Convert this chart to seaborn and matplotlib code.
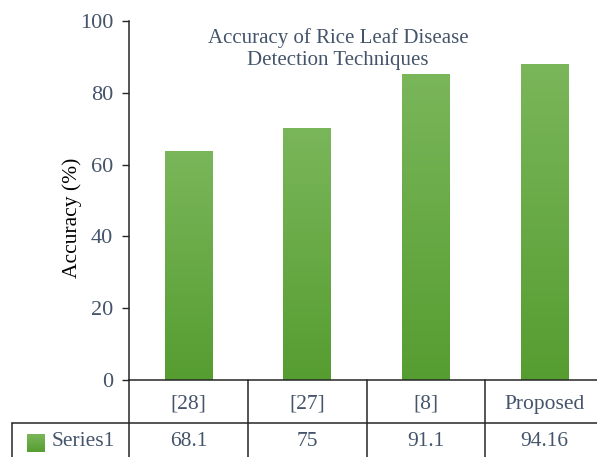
"""Bar chart of rice leaf disease detection accuracy with an Excel-style data table."""
import matplotlib
matplotlib.use("Agg")
import matplotlib.pyplot as plt
import matplotlib.patches as mpatches
import seaborn as sns
import pandas as pd
import numpy as np

# %%
# Data
methods = ['[28]', '[27]', '[8]', 'Proposed']
bar_heights = [63.7, 70.1, 85.2, 87.9]          # bar tops as drawn against the axis
table_values = ['68.1', '75', '91.1', '94.16']  # values printed in the data table
series_name = 'Series1'
y_ticks = [0, 20, 40, 60, 80, 100]

df = pd.DataFrame({'method': methods, 'accuracy': bar_heights})

# %%
sns.set_style('white')
plt.rcParams['font.family'] = ['Liberation Serif', 'DejaVu Serif']

slate = '#44546A'
line_col = '#262626'
top_green = np.array([122, 182, 90]) / 255
bot_green = np.array([86, 157, 49]) / 255

W, H = 597, 457
fig = plt.figure(figsize=(W / 100, H / 100), dpi=100)
# plot area: left spine at x=129, 100 at y=21, 0 at y=380 (pixels)
ax = fig.add_axes([129 / W, 1 - 380 / H, 475 / W, 359 / H])

sns.barplot(data=df, x='method', y='accuracy', color=tuple(bot_green),
            width=0.4, ax=ax)

# vertical gradient on each bar
grad = np.linspace(0, 1, 256).reshape(-1, 1, 1)
grad_img = top_green * (1 - grad) + bot_green * grad
for patch in ax.patches:
    x0, y0 = patch.get_x(), patch.get_y()
    w, h = patch.get_width(), patch.get_height()
    im = ax.imshow(grad_img, extent=[x0, x0 + w, y0, y0 + h],
                   aspect='auto', origin='upper', zorder=patch.get_zorder() + 0.1)
    im.set_clip_path(patch)

ax.set_xlim(-0.5, 3.5)
ax.set_ylim(0, 100)
ax.set_yticks(y_ticks)
ax.set_yticklabels([str(t) for t in y_ticks], color=slate, fontsize=16)
ax.set_xticks([])
ax.set_xlabel('')
ax.set_ylabel('Accuracy (%)', fontsize=15.5, color='black')
ax.yaxis.set_label_coords(-0.098, 0.451)
ax.tick_params(axis='y', direction='out', length=5, width=1, color=line_col,
               pad=6.5, left=True)

for side in ['top', 'right']:
    ax.spines[side].set_visible(False)
for side in ['left', 'bottom']:
    ax.spines[side].set_color(line_col)
    ax.spines[side].set_linewidth(1.1)

# %%
# Data table under the axis (x in data units, y in axes units)
trans = ax.get_xaxis_transform()
row1 = -43 / 359
bottom = -0.3
x_left = -0.5 - 117 / 118.75
for xb in [-0.5, 0.5, 1.5, 2.5, 3.5]:
    ax.plot([xb, xb], [0, bottom], transform=trans, color=line_col, lw=1.1,
            clip_on=False)
ax.plot([x_left, x_left], [row1, bottom], transform=trans, color=line_col,
        lw=1.1, clip_on=False)
ax.plot([x_left, 4.0], [row1, row1], transform=trans, color=line_col, lw=1.1,
        clip_on=False)

for i, (m, v) in enumerate(zip(methods, table_values)):
    ax.text(i, -24 / 359, m, transform=trans, ha='center', va='center',
            fontsize=15.5, color=slate)
    ax.text(i, -62 / 359, v, transform=trans, ha='center', va='center',
            fontsize=15.5, color=slate)

# legend key in the table
key = mpatches.Rectangle((-0.5 - 102 / 118.75, -72 / 359), 18 / 118.75, 18 / 359,
                         transform=trans, clip_on=False, facecolor=tuple(bot_green),
                         edgecolor='none')
ax.add_patch(key)
kim = ax.imshow(grad_img, extent=[-0.5 - 102 / 118.75, -0.5 - 84 / 118.75,
                                  -72 / 359, -54 / 359],
                transform=trans, aspect='auto', origin='upper', zorder=3)
kim.set_clip_path(key)
ax.text(-0.5 - 77 / 118.75, -62 / 359, series_name, transform=trans,
        ha='left', va='center', fontsize=15.5, color=slate)

ax.set_xlim(-0.5, 3.5)
ax.set_ylim(0, 100)

# %%
fig.text(338 / W, 1 - 49 / H, 'Accuracy of Rice Leaf Disease\nDetection Techniques',
         ha='center', va='center', fontsize=15, color=slate, linespacing=1.2)

fig.savefig('out.png', dpi=100)
